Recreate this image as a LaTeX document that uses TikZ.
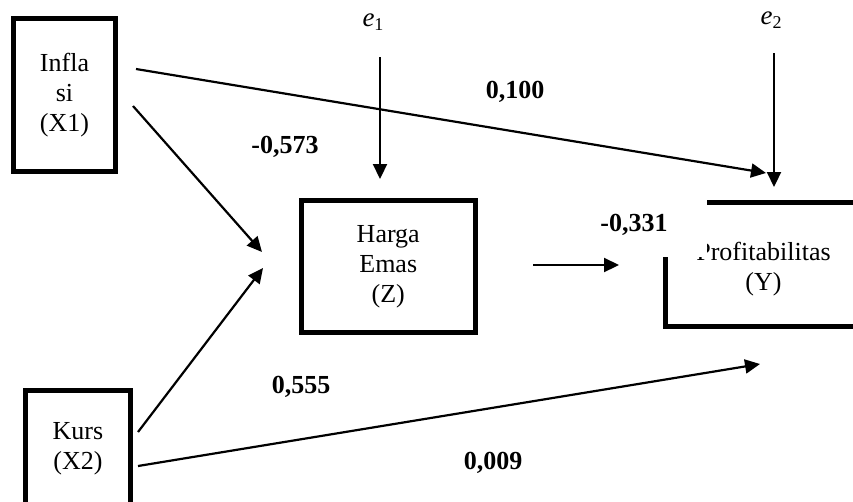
\documentclass[tikz,border=0pt]{standalone}
\usepackage{fontspec}
\setmainfont{Liberation Serif}
\usetikzlibrary{arrows.meta}
\begin{document}
\begin{tikzpicture}[x=1pt,y=-1pt,
  box/.style={draw,line width=5pt,inner sep=0pt,align=center,font=\fontsize{26}{30}\selectfont},
  txt/.style={inner sep=0pt,align=center,font=\fontsize{26}{30}\selectfont},
  lbl/.style={inner sep=1pt,font=\fontsize{26}{30}\selectfont\bfseries},
  errlbl/.style={inner sep=0pt,font=\fontsize{27}{30}\selectfont},
  conn/.style={line width=2.2pt,-{Triangle[length=15pt,width=14pt]}},
  thick line/.style={line width=5pt,line join=miter}]
\useasboundingbox (0,0) rectangle (853,501);

% boxes
\node[box,minimum width=102pt,minimum height=153pt] (x1) at (64.5,95) {Infla\\si\\(X1)};
\node[box,minimum width=173.5pt,minimum height=132pt] (z) at (388.25,266.5) {Harga\\Emas\\(Z)};
\node[box,minimum width=105pt,minimum height=117pt] (x2) at (78,449) {Kurs\\(X2)};

% Profitabilitas (partly covered frame)
\draw[thick line] (853,202.5) -- (665,202.5) -- (665,326.5) -- (853,326.5);
\node[txt] (y) at (763.5,269) {Profitabilitas\\(Y)};
\fill[white] (590,188) rectangle (707,256.5);

% error terms
\node[errlbl] (e1) at (373,22) {\textit{e}\raisebox{-0.3ex}{\fontsize{18}{20}\selectfont 1}};
\node[errlbl] (e2) at (771,20) {\textit{e}\raisebox{-0.3ex}{\fontsize{18}{20}\selectfont 2}};

% connector end points
\coordinate (e1s) at (380,57);
\coordinate (e1t) at (380,179);
\coordinate (e2s) at (774,53);
\coordinate (e2t) at (774,187);
\coordinate (a1s) at (136,69);
\coordinate (a1t) at (766,173);
\coordinate (a2s) at (133,106);
\coordinate (a2t) at (262,252);
\coordinate (a3s) at (138,432);
\coordinate (a3t) at (263,268);
\coordinate (a4s) at (138,466);
\coordinate (a4t) at (760,364);
\coordinate (a5s) at (533,265);
\coordinate (a5t) at (619,265);

\draw[conn] (e1s) -- (e1t);
\draw[conn] (e2s) -- (e2t);
\draw[conn] (a1s) -- (a1t);
\draw[conn] (a2s) -- (a2t);
\draw[conn] (a3s) -- (a3t);
\draw[conn] (a4s) -- (a4t);
\draw[conn] (a5s) -- (a5t);

% coefficients
\node[lbl] (c1) at (515,92) {0,100};
\node[lbl] (c2) at (285,147) {-0,573};
\node[lbl] (c3) at (634,225) {-0,331};
\node[lbl] (c4) at (301,387) {0,555};
\node[lbl] (c5) at (493,463) {0,009};
\end{tikzpicture}
\end{document}
